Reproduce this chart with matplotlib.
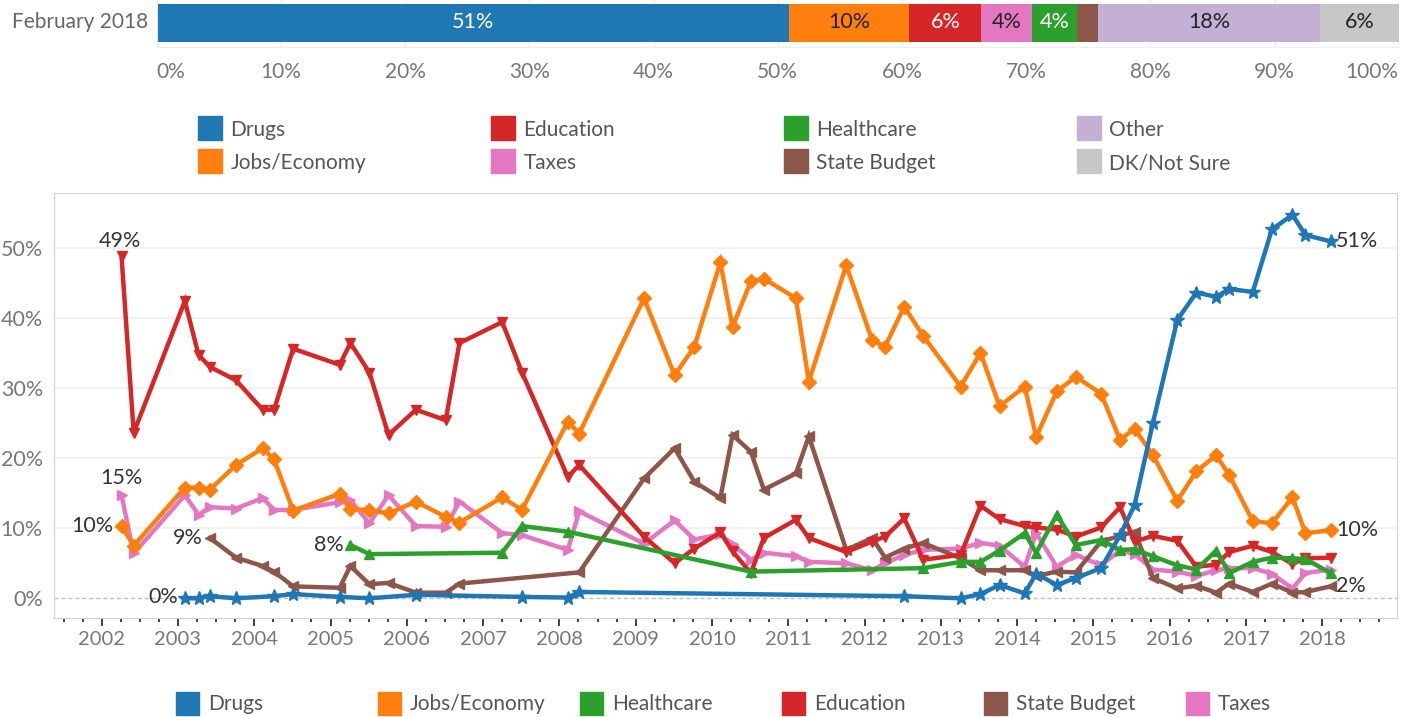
import numpy as np
import matplotlib
matplotlib.use('Agg')
import matplotlib.pyplot as plt
from matplotlib.patches import Rectangle

plt.rcParams['font.family'] = ['Lato', 'DejaVu Sans']

# ---- top bar: February 2018 ----
bar_cats = ['Drugs', 'Jobs/Economy', 'Education', 'Taxes', 'Healthcare',
            'State Budget', 'Other', 'DK/Not Sure']
bar_vals = [50.9, 9.7, 5.8, 4.1, 3.6, 1.7, 17.9, 6.3]
bar_text = ['51%', '10%', '6%', '4%', '4%', '', '18%', '6%']
bar_ticks = list(range(0, 101, 10))

colors = {'Drugs': '#1f77b4', 'Jobs/Economy': '#ff7f0e', 'Healthcare': '#2ca02c',
          'Education': '#d62728', 'State Budget': '#8c564b', 'Taxes': '#e377c2',
          'Other': '#c5b0d5', 'DK/Not Sure': '#c7c7c7'}
light_text = ['Drugs', 'Education', 'Healthcare']

# ---- survey dates (decimal years) ----
survey = [2002.26, 2002.42, 2003.09, 2003.27, 2003.42, 2003.76, 2004.11, 2004.26, 2004.51,
          2005.12, 2005.26, 2005.51, 2005.76, 2006.12, 2006.51, 2006.69, 2007.25, 2007.51,
          2008.11, 2008.26, 2009.11, 2009.51, 2009.77, 2010.11, 2010.27, 2010.51, 2010.68,
          2011.10, 2011.27, 2011.76, 2012.10, 2012.27, 2012.52, 2012.77, 2013.26, 2013.52,
          2013.77, 2014.10, 2014.25, 2014.52, 2014.77, 2015.10, 2015.35, 2015.54, 2015.78,
          2016.10, 2016.35, 2016.61, 2016.78, 2017.09, 2017.34, 2017.61, 2017.78, 2018.11]

N = None
drugs = [N, N, 0.0, 0.0, 0.3, 0.0, N, 0.3, 0.6,
         0.2, N, 0.0, N, 0.5, N, N, N, 0.2,
         0.1, 0.9, N, N, N, N, N, N, N,
         N, N, N, N, N, 0.3, N, 0.0, 0.6,
         1.9, 0.7, 3.5, 1.9, 2.9, 4.3, 9.0, 13.3, 25.0,
         39.7, 43.6, 43.0, 44.1, 43.7, 52.6, 54.7, 51.8, 50.9]
jobs = [10.3, 7.5, 15.8, 15.8, 15.5, 19.0, 21.4, 19.8, 12.5,
        14.9, 12.7, 12.6, 12.1, 13.8, 11.6, 10.8, 14.4, 12.6,
        25.2, 23.5, 42.8, 31.8, 35.9, 47.9, 38.7, 45.2, 45.6,
        42.8, 30.9, 47.5, 36.8, 35.9, 41.6, 37.4, 30.2, 35.0,
        27.4, 30.2, 23.0, 29.5, 31.6, 29.2, 22.6, 24.2, 20.4,
        13.9, 18.1, 20.4, 17.6, 11.0, 10.7, 14.4, 9.3, 9.7]
health = [N, N, N, N, N, N, N, N, N,
          N, 7.6, 6.3, N, N, N, N, 6.5, 10.3,
          9.5, N, N, N, N, N, N, 3.8, N,
          N, N, N, N, N, N, 4.3, 5.2, 5.2,
          6.8, 9.3, 6.5, 11.9, 7.6, 8.3, 6.9, 7.0, 6.0,
          4.7, 4.1, 6.8, 3.6, 5.2, 5.8, 5.7, 5.6, 3.6]
educ = [48.8, 23.6, 42.4, 34.7, 33.0, 31.1, 26.9, 26.9, 35.6,
        33.3, 36.4, 32.2, 23.3, 26.9, 25.4, 36.4, 39.4, 32.2,
        17.3, 19.0, 8.8, 5.0, 7.1, 9.4, 6.7, 3.6, 8.6,
        11.2, 8.6, 6.6, 8.1, 8.8, 11.4, 5.5, 6.2, 13.2,
        11.3, 10.3, 10.1, 9.8, 8.8, 10.1, 13.0, 8.1, 8.9,
        8.2, 4.5, 4.8, 6.6, 7.5, 6.6, 4.9, 5.7, 5.8]
budget = [N, N, N, N, 8.6, 5.8, 4.6, 3.8, 1.7,
          1.5, 4.6, 2.0, 2.2, 0.8, 0.8, 2.1, N, N,
          N, 3.7, 17.1, 21.4, 16.6, 14.3, 23.3, 20.9, 15.5,
          17.8, 23.1, 6.9, 8.6, 5.8, 7.1, 7.9, 5.7, 4.0,
          4.0, 4.0, 3.2, 3.8, 3.7, 8.1, 8.9, 9.5, 2.9,
          1.4, 1.8, 0.8, 2.1, 0.9, 2.1, 0.8, 0.9, 1.7]
taxes = [14.7, 6.4, 14.7, 11.9, 13.0, 12.8, 14.3, 12.6, 12.6,
         13.7, 14.0, 10.7, 14.7, 10.3, 10.2, 13.8, 9.3, 9.0,
         6.9, 12.4, 7.8, 11.1, 8.4, 9.1, 7.7, 5.5, 6.5,
         6.0, 5.2, 5.0, 4.0, 5.0, 6.2, 6.9, 7.1, 7.9,
         7.5, 4.5, 9.3, 4.5, 6.2, 4.7, 6.8, 6.3, 4.1,
         3.8, 3.2, 4.0, 4.3, 4.3, 3.5, 1.4, 3.6, 4.1]

series = [('Taxes', taxes, '>'), ('State Budget', budget, '<'), ('Education', educ, 'v'),
          ('Healthcare', health, '^'), ('Jobs/Economy', jobs, 'D'), ('Drugs', drugs, '*')]

W, H = 1413, 717
fig = plt.figure(figsize=(W / 100, H / 100), dpi=100)

# ---------- top stacked bar ----------
axb = fig.add_axes([156.7 / W, 1 - 46.7 / H, 1242 / W, 46.7 / H])
left = 0
for cat, v, t in zip(bar_cats, bar_vals, bar_text):
    axb.barh(0.507, v, left=left, height=0.814, color=colors[cat], zorder=2)
    if t:
        axb.text(left + v / 2, 0.52, t, ha='center', va='center', fontsize=15.5,
                 color='white' if cat in light_text else '#222222', zorder=3)
    left += v
axb.set_xlim(0, 100)
axb.set_ylim(0, 1)
axb.set_yticks([])
axb.set_xticks(bar_ticks)
axb.set_xticklabels([f'{t}%' for t in bar_ticks], fontsize=15, color='#777777')
axb.get_xticklabels()[0].set_ha('left')
axb.get_xticklabels()[-1].set_ha('right')
axb.tick_params(axis='x', length=0, pad=11)
axb.grid(axis='x', color='#ebebeb', lw=1, zorder=0)
for s in ['top', 'right']:
    axb.spines[s].set_visible(False)
axb.spines['left'].set_color('#e6e6e6')
axb.spines['bottom'].set_color('#eeeeee')
fig.text(148 / W, 1 - 22 / H, 'February 2018', ha='right', va='center',
         fontsize=15, color='#666666')

# ---------- top legend ----------
top_leg = [['Drugs', 'Jobs/Economy'], ['Education', 'Taxes'],
           ['Healthcare', 'State Budget'], ['Other', 'DK/Not Sure']]
for ci, col in enumerate(top_leg):
    x0 = 198.3 + ci * 293
    for ri, cat in enumerate(col):
        ytop = 116 + ri * 33
        fig.patches.append(Rectangle((x0 / W, 1 - (ytop + 24) / H), 23.4 / W, 24 / H,
                                     transform=fig.transFigure, color=colors[cat]))
        fig.text((x0 + 32) / W, 1 - (ytop + 14) / H, cat, ha='left', va='center',
                 fontsize=15, color='#555555')

# ---------- line chart ----------
ax = fig.add_axes([54 / W, 1 - 618 / H, 1343 / W, 424.7 / H])
dates = np.array(survey)
pts = {}
for name, vals, mk in series:
    y = np.array([np.nan if v is None else v for v in vals], dtype=float)
    ok = ~np.isnan(y)
    ax.plot(dates[ok], y[ok], color=colors[name], lw=3.2, marker=mk,
            markersize=10 if mk == '*' else 7.5, zorder=3, solid_joinstyle='miter')
    pts[name] = (dates[ok], y[ok])

ax.set_xlim(2001.375, 2018.98)
ax.set_ylim(-2.81, 57.76)
ax.set_yticks(range(0, 51, 10))
ax.set_yticklabels([f'{t}%' for t in range(0, 51, 10)], fontsize=15.5, color='#777777')
ax.tick_params(axis='y', length=0, pad=8)
ax.set_xticks(range(2002, 2019))
ax.set_xticklabels([str(t) for t in range(2002, 2019)], fontsize=14.5, color='#777777')
ax.set_xticks(np.arange(2001.5, 2018.8, 0.25), minor=True)
ax.tick_params(axis='x', which='major', length=5.5, width=1.3, color='#333333', pad=4)
ax.tick_params(axis='x', which='minor', length=3, width=1.3, color='#333333')
for t in range(10, 51, 10):
    ax.axhline(t, color='#efefef', lw=1.2, zorder=0)
ax.axhline(0, color='#c0c0c0', lw=1, ls=(0, (3, 2)), zorder=1)
for s in ax.spines.values():
    s.set_color('#d0d0d0')

# end / start labels
def lab(name, idx, dx, dy, ha, va):
    xs, ys = pts[name]
    ax.annotate(f'{ys[idx]:.0f}%', (xs[idx], ys[idx]), xytext=(dx, dy),
                textcoords='offset points', ha=ha, va=va, fontsize=15.5, color='#333333')

lab('Education', 0, -1, 4, 'center', 'bottom')
lab('Taxes', 0, 0, 5, 'center', 'bottom')
lab('Jobs/Economy', 0, -6, 0, 'right', 'center')
lab('State Budget', 0, -5, 0, 'right', 'center')
lab('Healthcare', 0, -5, 0, 'right', 'center')
lab('Drugs', 0, -5, 1, 'right', 'center')
lab('Drugs', -1, 4, 0, 'left', 'center')
lab('Jobs/Economy', -1, 4, 0, 'left', 'center')
lab('State Budget', -1, 4, 0, 'left', 'center')

# ---------- bottom legend ----------
bot_leg = ['Drugs', 'Jobs/Economy', 'Healthcare', 'Education', 'State Budget', 'Taxes']
for i, cat in enumerate(bot_leg):
    x0 = 176 + i * 202
    fig.patches.append(Rectangle((x0 / W, 1 - 715 / H), 23.4 / W, 23.5 / H,
                                 transform=fig.transFigure, color=colors[cat]))
    fig.text((x0 + 32) / W, 1 - 704 / H, cat, ha='left', va='center',
             fontsize=15, color='#555555')

fig.savefig('out.png', dpi=100)
